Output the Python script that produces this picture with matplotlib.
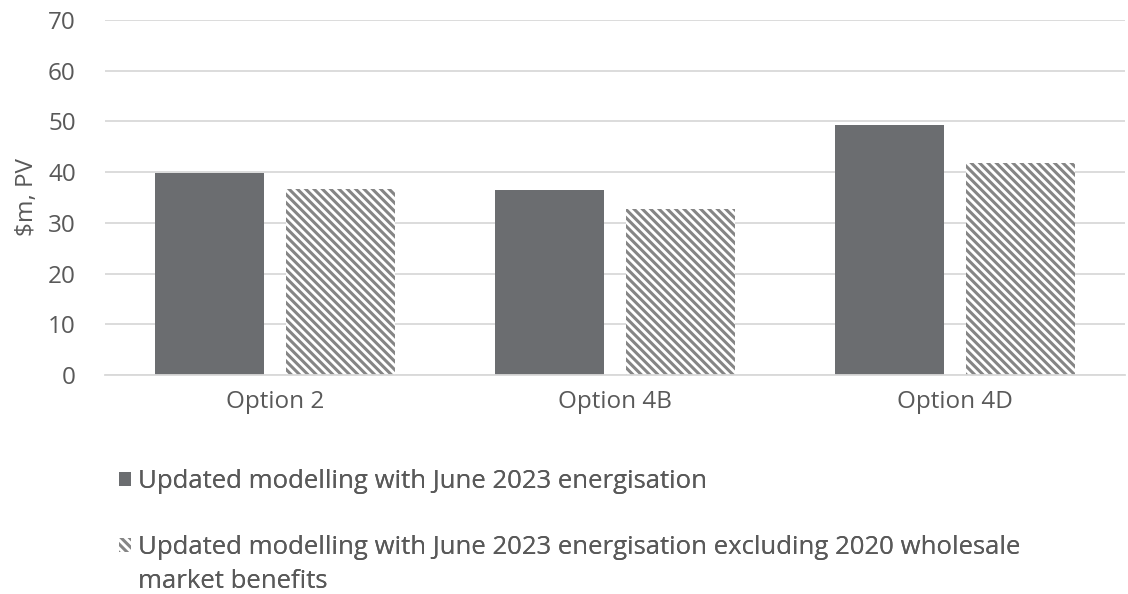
import numpy as np
import matplotlib
matplotlib.use('Agg')
import matplotlib.pyplot as plt
from matplotlib.patches import Patch

# data
categories = ['Option 2', 'Option 4B', 'Option 4D']
updated = [39.8, 36.5, 49.3]
updated_excl = [36.7, 32.7, 41.8]
label_1 = 'Updated modelling with June 2023 energisation'
label_2 = 'Updated modelling with June 2023 energisation excluding 2020 wholesale'
label_2_cont = 'market benefits'
yticks = [0, 10, 20, 30, 40, 50, 60, 70]

plt.rcParams['font.family'] = ['Open Sans', 'DejaVu Sans']
plt.rcParams['hatch.linewidth'] = 2.2
text_col = '#595959'
solid_col = '#6b6d70'
hatch_col = '#858585'

fig = plt.figure(figsize=(11.28, 5.94), dpi=100)
ax = fig.add_axes([105 / 1128, 1 - 375 / 594, 1020 / 1128, 355 / 594])

x = np.arange(len(categories))
w = 0.323
gap = 0.062
ax.bar(x - (w + gap) / 2, updated, w, color=solid_col, zorder=2)
ax.bar(x + (w + gap) / 2, updated_excl, w, color='white', edgecolor=hatch_col,
       hatch='\\\\\\\\', linewidth=0, zorder=2)

ax.set_xlim(-0.5, 2.5)
ax.set_ylim(0, 70)
ax.set_yticks(yticks)
ax.set_xticks(x)
ax.set_xticklabels(categories)
ax.yaxis.grid(True, color='#d9d9d9', linewidth=1.3, zorder=0)
ax.set_axisbelow(True)
for s in ['top', 'right', 'left']:
    ax.spines[s].set_visible(False)
ax.spines['bottom'].set_color('#d9d9d9')
ax.spines['bottom'].set_linewidth(1.3)
ax.tick_params(axis='both', length=0, labelsize=17.5, colors=text_col)
ax.tick_params(axis='y', pad=21)
ax.tick_params(axis='x', pad=11)
ax.set_ylabel('$m, PV', fontsize=17.5, color=text_col)
ax.yaxis.set_label_coords(-66 / 1020, 0.5)

# legend, one row per line of text
leg_kw = dict(frameon=False, fontsize=18.5, handlelength=0.45, handleheight=0.45,
              handletextpad=0.3, borderpad=0, borderaxespad=0, labelcolor=text_col,
              loc='center left')
rows = [
    (Patch(facecolor=solid_col, label=label_1), 482),
    (Patch(facecolor='white', edgecolor=hatch_col, hatch='\\\\\\\\', linewidth=0, label=label_2), 548),
    (Patch(facecolor='none', edgecolor='none', label=label_2_cont), 581),
]
for h, ypix in rows:
    lg = fig.legend(handles=[h], bbox_to_anchor=(119 / 1128, 1 - ypix / 594), **leg_kw)
    fig.add_artist(lg)

fig.savefig('out.png', dpi=100)
